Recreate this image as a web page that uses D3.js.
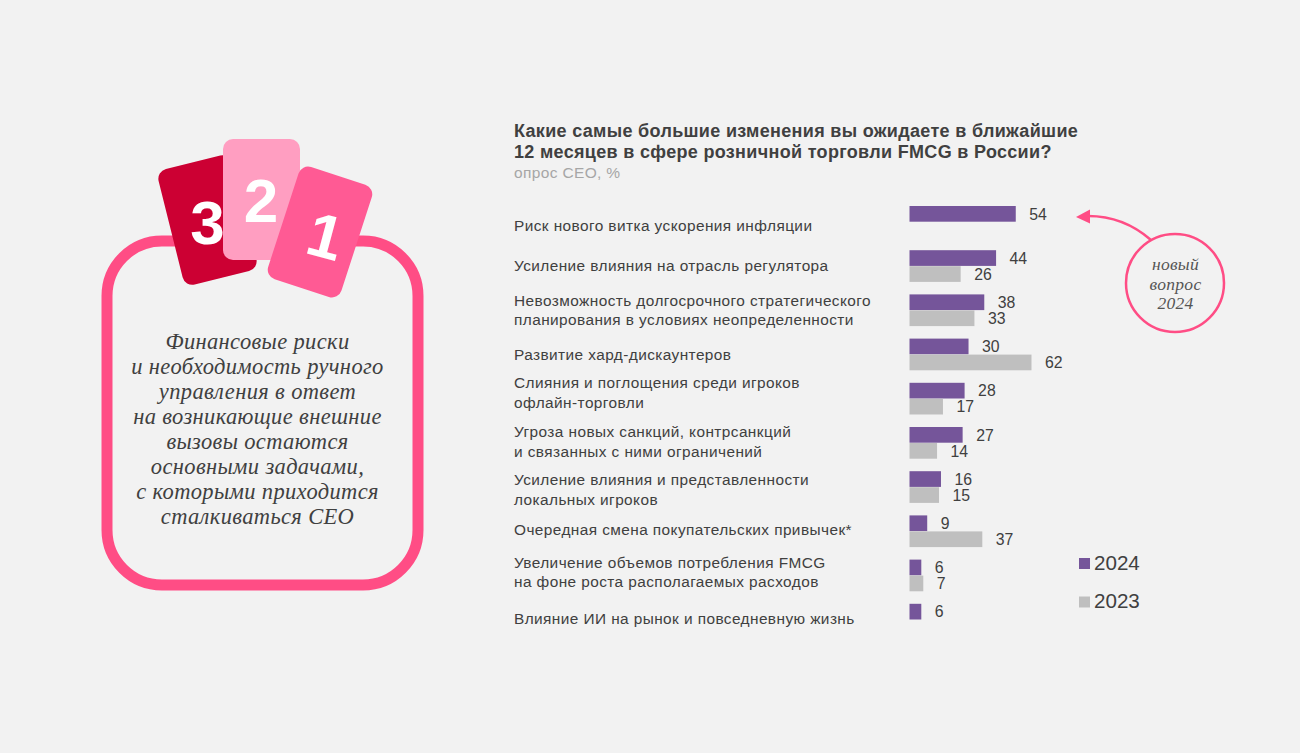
<!DOCTYPE html>
<html><head><meta charset="utf-8">
<script src="https://cdn.jsdelivr.net/npm/d3@7"></script>
<style>html,body{margin:0;padding:0;background:#f2f2f2}svg{display:block}</style>
</head><body><svg id="c" width="1300" height="753"></svg>
<script>
const categories = [
  ["Риск нового витка ускорения инфляции"],
  ["Усиление влияния на отрасль регулятора"],
  ["Невозможность долгосрочного стратегического","планирования в условиях неопределенности"],
  ["Развитие хард-дискаунтеров"],
  ["Слияния и поглощения среди игроков","офлайн-торговли"],
  ["Угроза новых санкций, контрсанкций","и связанных с ними ограничений"],
  ["Усиление влияния и представленности","локальных игроков"],
  ["Очередная смена покупательских привычек*"],
  ["Увеличение объемов потребления FMCG","на фоне роста располагаемых расходов"],
  ["Влияние ИИ на рынок и повседневную жизнь"]
];
const values2024 = [54,44,38,30,28,27,16,9,6,6];
const values2023 = [null,26,33,62,17,14,15,37,7,null];
const seriesNames = ["2024","2023"];
const titleLines = ["Какие самые большие изменения вы ожидаете в ближайшие","12 месяцев в сфере розничной торговли FMCG в России?"];
const subtitle = "опрос CEO, %";
const calloutLines = ["новый","вопрос","2024"];
const leftLines = ["Финансовые риски","и необходимость ручного","управления в ответ","на возникающие внешние","вызовы остаются","основными задачами,","с которыми приходится","сталкиваться CEO"];

const PURPLE="#75559a", GRAY="#bfbfbf", PINK="#ff4d85", TXT="#404040";
const SANS="'Liberation Sans',Arial,sans-serif", SERIF="'Liberation Serif',serif";
const labelNudge=[4,0,0,0,-6,-1,3,-1,-3,-1];

const svg=d3.select("#c");
svg.append("rect").attr("width",1300).attr("height",753).attr("fill","#f2f2f2");

const x=d3.scaleLinear().domain([0,62]).range([909.5,1031.5]);
const y=d3.scaleBand().domain(d3.range(categories.length)).range([206,648]).paddingInner(0).paddingOuter(0);
const sub=d3.scaleBand().domain(seriesNames).range([0,32]);
const vals={"2024":values2024,"2023":values2023};
const col=d3.scaleOrdinal().domain(seriesNames).range([PURPLE,GRAY]);

// title
titleLines.forEach((t,i)=>svg.append("text").attr("x",514).attr("y",136.5+i*21).text(t)
  .attr("font-family",SANS).attr("font-weight","bold").attr("font-size",18).attr("letter-spacing",.32).attr("fill",TXT));
svg.append("text").attr("x",514).attr("y",178).text(subtitle).attr("font-family",SANS).attr("font-size",15.5).attr("letter-spacing",.35).attr("fill","#a6a6a6");

// category labels
categories.forEach((lines,i)=>{
  const cy=y(i)+16+labelNudge[i];
  lines.forEach((t,j)=>svg.append("text").attr("x",514).attr("y",cy+(j-(lines.length-1)/2)*19.5+5).text(t)
    .attr("font-family",SANS).attr("font-size",15.4).attr("letter-spacing",.42).attr("fill",TXT));
});

// bars
seriesNames.forEach(s=>{
  const data=vals[s].map((v,i)=>({v,i})).filter(d=>d.v!==null);
  svg.append("g").selectAll("rect").data(data).join("rect")
    .attr("x",x(0)).attr("y",d=>y(d.i)+sub(s)).attr("width",d=>x(d.v)-x(0)).attr("height",sub.bandwidth()-.3)
    .attr("fill",col(s));
  svg.append("g").selectAll("text").data(data).join("text")
    .attr("x",d=>x(d.v)+13.5).attr("y",d=>y(d.i)+sub(s)+13.5).text(d=>d.v)
    .attr("font-family",SANS).attr("font-size",15.8).attr("fill",TXT);
});

// legend
seriesNames.forEach((s,i)=>{
  svg.append("rect").attr("x",1079).attr("y",558+i*38.5).attr("width",11).attr("height",11).attr("fill",col(s));
  svg.append("text").attr("x",1094).attr("y",569.5+i*38.5).text(s).attr("font-family",SANS).attr("font-size",20.6).attr("fill",TXT);
});

// callout
svg.append("circle").attr("cx",1175).attr("cy",283).attr("r",49).attr("fill","none").attr("stroke",PINK).attr("stroke-width",2.5);
svg.append("path").attr("d","M1151,240 C1135,226 1115,216 1088,216").attr("fill","none").attr("stroke",PINK).attr("stroke-width",2.5);
svg.append("path").attr("d","M1076,217 L1090,209.5 L1090,223.5 Z").attr("fill",PINK);
calloutLines.forEach((t,i)=>svg.append("text").attr("x",1175.5).attr("y",270+i*19.5).text(t).attr("text-anchor","middle")
  .attr("font-family",SERIF).attr("font-style","italic").attr("font-size",17.5).attr("letter-spacing",.3).attr("fill","#555"));

// left panel
svg.append("rect").attr("x",107).attr("y",241).attr("width",311).attr("height",344).attr("rx",55)
  .attr("fill","none").attr("stroke",PINK).attr("stroke-width",11);
leftLines.forEach((t,i)=>svg.append("text").attr("x",257.5).attr("y",349+i*25).text(t).attr("text-anchor","middle")
  .attr("font-family",SERIF).attr("font-style","italic").attr("font-size",22.5).attr("letter-spacing",.35).attr("fill",TXT));

// cards
function card(cx,cy,w,h,rot,fill,label,lx,ly,fs,lrot){
  svg.append("rect").attr("x",-w/2).attr("y",-h/2).attr("width",w).attr("height",h).attr("rx",10)
    .attr("transform",`translate(${cx},${cy}) rotate(${rot})`).attr("fill",fill);
  svg.append("text").attr("transform",`translate(${lx},${ly}) rotate(${lrot})`).attr("text-anchor","middle").text(label)
    .attr("font-family",SANS).attr("font-weight","bold").attr("font-size",fs).attr("fill","#fff");
}
card(207.5,220,76,119,-14,"#cc0033","3",207.5,244,62,0);
card(261.5,199.5,77,121,0,"#ff9ec1","2",261,222,62,0);
card(320,232,77,118,18,"#ff5a94","1",320,257,62,15);
</script></body></html>
